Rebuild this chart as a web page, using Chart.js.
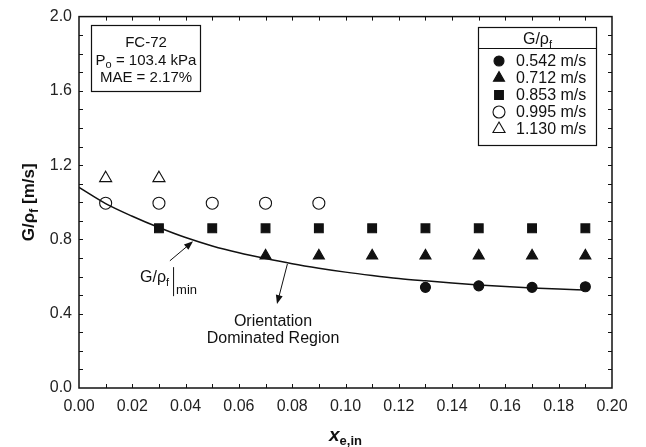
<!DOCTYPE html>
<html>
<head>
<meta charset="utf-8">
<script src="https://cdn.jsdelivr.net/npm/chart.js@4/dist/chart.umd.min.js"></script>
<style>
  html, body { margin: 0; background: #fff; }
  #wrap { width: 646px; height: 447px; }
</style>
</head>
<body>
<div id="wrap"><canvas id="c"></canvas></div>
<script>
const FONT = '"Liberation Sans", Arial, Helvetica, sans-serif';

// measured points, x = inlet quality, y = G/rho_f [m/s]
const xFilledCircle = [0.13, 0.15, 0.17, 0.19];
const yFilledCircle = [0.542, 0.55, 0.542, 0.545];
const xFilledTri = [0.07, 0.09, 0.11, 0.13, 0.15, 0.17, 0.19];
const yFilledTri = [0.712, 0.712, 0.712, 0.712, 0.712, 0.712, 0.712];
const xFilledSquare = [0.03, 0.05, 0.07, 0.09, 0.11, 0.13, 0.15, 0.17, 0.19];
const yFilledSquare = [0.86, 0.86, 0.86, 0.86, 0.86, 0.86, 0.86, 0.86, 0.86];
const xOpenCircle = [0.01, 0.03, 0.05, 0.07, 0.09];
const yOpenCircle = [0.995, 0.995, 0.995, 0.995, 0.995];
const xOpenTri = [0.01, 0.03];
const yOpenTri = [1.13, 1.13];

// G/rho_f|min correlation curve
const xMinCurve = [0.0, 0.01, 0.02, 0.03, 0.04, 0.05, 0.06, 0.07, 0.08, 0.09, 0.10,
                   0.11, 0.12, 0.13, 0.14, 0.15, 0.16, 0.17, 0.18, 0.19];
const yMinCurve = [1.08, 0.993, 0.925, 0.864, 0.81, 0.765, 0.728, 0.697, 0.669, 0.645, 0.624,
                   0.606, 0.59, 0.577, 0.565, 0.555, 0.546, 0.539, 0.533, 0.528];

const seriesLabels = ['0.542 m/s', '0.712 m/s', '0.853 m/s', '0.995 m/s', '1.130 m/s'];

const toPts = (xs, ys) => xs.map((x, i) => ({ x: x, y: ys[i] }));

function marker(label, xs, ys, style, filled, radius) {
  return {
    type: 'scatter',
    label: label,
    data: toPts(xs, ys),
    pointStyle: style,
    pointRadius: radius,
    pointBackgroundColor: filled ? '#111' : '#fff',
    pointBorderColor: '#111',
    pointBorderWidth: 1.1,
    showLine: false,
  };
}

const datasets = [
  {
    type: 'line',
    label: '',
    data: toPts(xMinCurve, yMinCurve),
    borderColor: '#111',
    borderWidth: 1.5,
    pointRadius: 0,
    cubicInterpolationMode: 'monotone',
    fill: false,
  },
  marker(seriesLabels[0], xFilledCircle, yFilledCircle, 'circle', true, 5),
  marker(seriesLabels[1], xFilledTri, yFilledTri, 'triangle', true, 6.4),
  marker(seriesLabels[2], xFilledSquare, yFilledSquare, 'rect', true, 6.2),
  marker(seriesLabels[3], xOpenCircle, yOpenCircle, 'circle', false, 6),
  marker(seriesLabels[4], xOpenTri, yOpenTri, 'triangle', false, 7),
];

// draws a row of text pieces (for subscripts) starting at x, baseline y
function drawRuns(ctx, runs, x, y, align) {
  let total = 0;
  runs.forEach(r => { ctx.font = r.font; total += ctx.measureText(r.t).width; });
  let cx = align === 'center' ? x - total / 2 : x;
  ctx.textAlign = 'left';
  ctx.textBaseline = 'alphabetic';
  runs.forEach(r => {
    ctx.font = r.font;
    ctx.fillText(r.t, cx, y + (r.dy || 0));
    cx += ctx.measureText(r.t).width;
  });
  return total;
}

function drawMarker(ctx, style, filled, r, x, y) {
  ctx.save();
  ctx.fillStyle = filled ? '#111' : '#fff';
  ctx.strokeStyle = '#111';
  ctx.lineWidth = 1.1;
  ctx.beginPath();
  if (style === 'circle') {
    ctx.arc(x, y, r, 0, Math.PI * 2);
  } else if (style === 'rect') {
    const s = Math.SQRT1_2 * r;
    ctx.rect(x - s, y - s, 2 * s, 2 * s);
  } else {
    for (let k = 0; k < 3; k++) {
      const a = k * 2 * Math.PI / 3;
      const px = x + Math.sin(a) * r, py = y - Math.cos(a) * r;
      if (k === 0) ctx.moveTo(px, py); else ctx.lineTo(px, py);
    }
    ctx.closePath();
  }
  ctx.fill();
  ctx.stroke();
  ctx.restore();
}

function arrow(ctx, x1, y1, x2, y2) {
  const a = Math.atan2(y2 - y1, x2 - x1);
  const L = 9, W = 3.5;
  ctx.beginPath();
  ctx.moveTo(x1, y1);
  ctx.lineTo(x2 - Math.cos(a) * L * 0.8, y2 - Math.sin(a) * L * 0.8);
  ctx.stroke();
  ctx.beginPath();
  ctx.moveTo(x2, y2);
  ctx.lineTo(x2 - Math.cos(a) * L - Math.sin(a) * W, y2 - Math.sin(a) * L + Math.cos(a) * W);
  ctx.lineTo(x2 - Math.cos(a) * L + Math.sin(a) * W, y2 - Math.sin(a) * L - Math.cos(a) * W);
  ctx.closePath();
  ctx.fill();
}

const decorations = {
  id: 'decorations',
  beforeDatasetsDraw(chart) {
    const { ctx, chartArea: a, scales } = chart;
    const xs = scales.x, ys = scales.y;
    ctx.save();
    ctx.strokeStyle = '#111';
    ctx.lineWidth = 1.5;
    ctx.strokeRect(a.left, a.top, a.right - a.left, a.bottom - a.top);
    ctx.lineWidth = 1;
    ctx.beginPath();
    for (let i = 1; i < 20; i++) {
      const px = Math.round(xs.getPixelForValue(i * 0.01)) + 0.5;
      ctx.moveTo(px, a.bottom); ctx.lineTo(px, a.bottom - 4);
      ctx.moveTo(px, a.top); ctx.lineTo(px, a.top + 4);
    }
    for (let i = 1; i < 20; i++) {
      const py = Math.round(ys.getPixelForValue(i * 0.1)) + 0.5;
      ctx.moveTo(a.left, py); ctx.lineTo(a.left + 4, py);
      ctx.moveTo(a.right, py); ctx.lineTo(a.right - 4, py);
    }
    ctx.stroke();
    ctx.restore();
  },
  afterDraw(chart) {
    const { ctx, chartArea: a, scales } = chart;
    const X = v => scales.x.getPixelForValue(v);
    const Y = v => scales.y.getPixelForValue(v);
    ctx.save();
    ctx.fillStyle = '#111';
    ctx.strokeStyle = '#111';

    // axis titles
    ctx.save();
    ctx.translate(34, (a.top + a.bottom) / 2);
    ctx.rotate(-Math.PI / 2);
    drawRuns(ctx, [
      { t: 'G/\u03c1', font: 'bold 17px ' + FONT },
      { t: 'f', font: 'bold 12px ' + FONT, dy: 4 },
      { t: ' [m/s]', font: 'bold 17px ' + FONT },
    ], 0, 0, 'center');
    ctx.restore();
    drawRuns(ctx, [
      { t: 'x', font: 'italic bold 19px ' + FONT },
      { t: 'e,in', font: 'bold 13px ' + FONT, dy: 4 },
    ], (a.left + a.right) / 2, 441, 'center');

    // info box
    ctx.lineWidth = 1.2;
    ctx.strokeRect(91.5, 25.5, 109, 66);
    ctx.textAlign = 'center';
    ctx.font = '15px ' + FONT;
    ctx.fillText('FC-72', 146, 47);
    drawRuns(ctx, [
      { t: 'P', font: '15px ' + FONT },
      { t: 'o', font: '11px ' + FONT, dy: 3 },
      { t: ' = 103.4 kPa', font: '15px ' + FONT },
    ], 146, 65, 'center');
    ctx.textAlign = 'center';
    ctx.font = '15px ' + FONT;
    ctx.fillText('MAE = 2.17%', 146, 82);

    // legend box
    const lx = 478.5, ly = 27.5, lw = 118, lh = 118;
    ctx.strokeRect(lx, ly, lw, lh);
    ctx.beginPath();
    ctx.moveTo(lx, 48.5); ctx.lineTo(lx + lw, 48.5);
    ctx.stroke();
    drawRuns(ctx, [
      { t: 'G/\u03c1', font: '16px ' + FONT },
      { t: 'f', font: '11px ' + FONT, dy: 4 },
    ], lx + lw / 2, 44, 'center');
    const items = chart.data.datasets.filter(d => d.label);
    items.forEach((d, i) => {
      const yy = 61 + i * 17;
      const filled = d.pointBackgroundColor !== '#fff';
      drawMarker(ctx, d.pointStyle, filled, d.pointRadius, 499, yy);
      ctx.fillStyle = '#111';
      ctx.font = '16px ' + FONT;
      ctx.textAlign = 'left';
      ctx.textBaseline = 'middle';
      ctx.fillText(d.label, 516, yy + 1);
    });

    // annotations
    ctx.lineWidth = 1;
    arrow(ctx, X(0.0341), Y(0.685), X(0.0428), Y(0.79));
    arrow(ctx, X(0.0782), Y(0.668), X(0.0743), Y(0.452));
    const tx = X(0.0229), ty = Y(0.57);
    const w = drawRuns(ctx, [
      { t: 'G/\u03c1', font: '16px ' + FONT },
      { t: 'f', font: '11px ' + FONT, dy: 4 },
    ], tx, ty, 'left');
    ctx.beginPath();
    ctx.moveTo(tx + w + 4.5, ty - 15); ctx.lineTo(tx + w + 4.5, ty + 14);
    ctx.stroke();
    ctx.font = '13px ' + FONT;
    ctx.fillText('min', tx + w + 7, ty + 12);
    ctx.textAlign = 'center';
    ctx.font = '16px ' + FONT;
    ctx.fillText('Orientation', X(0.0728), Y(0.335));
    ctx.fillText('Dominated Region', X(0.0728), Y(0.24));
    ctx.restore();
  },
};

new Chart(document.getElementById('c'), {
  type: 'scatter',
  data: { datasets: datasets },
  options: {
    responsive: true,
    maintainAspectRatio: false,
    animation: false,
    layout: { padding: { top: 15, right: 34, left: 0, bottom: 0 } },
    plugins: { legend: { display: false }, tooltip: { enabled: false } },
    scales: {
      x: {
        type: 'linear',
        min: 0,
        max: 0.2,
        grid: { display: false, drawTicks: false },
        border: { display: false },
        ticks: {
          stepSize: 0.02,
          padding: 9,
          color: '#222',
          font: { family: FONT, size: 16 },
          maxRotation: 0,
          callback: v => v.toFixed(2),
        },
        afterFit: s => { s.height = 59; },
      },
      y: {
        type: 'linear',
        min: 0,
        max: 2,
        grid: { display: false, drawTicks: false },
        border: { display: false },
        ticks: {
          stepSize: 0.4,
          padding: 7,
          color: '#222',
          font: { family: FONT, size: 16 },
          callback: v => v.toFixed(1),
        },
        afterFit: s => { s.width = 79; },
      },
    },
  },
  plugins: [decorations],
});
</script>
</body>
</html>
